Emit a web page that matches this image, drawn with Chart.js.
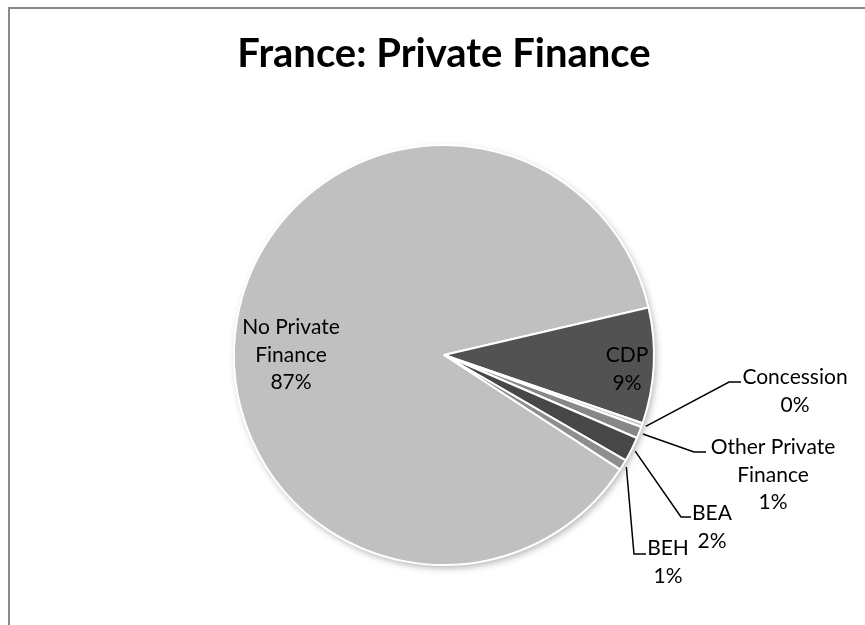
<!DOCTYPE html>
<html>
<head>
<meta charset="utf-8">
<script src="https://cdn.jsdelivr.net/npm/chart.js@4.4.1/dist/chart.umd.min.js"></script>
<style>
  html, body { margin: 0; padding: 0; background: #fff; }
  #wrap { width: 865px; height: 625px; position: relative; }
</style>
</head>
<body>
<div id="wrap"><canvas id="pie"></canvas></div>
<script>
// Shares of private finance (percent)
const sliceNames = ['No Private Finance', 'CDP', 'Concession', 'Other Private Finance', 'BEA', 'BEH'];
const sliceValues = [87.2, 8.9, 0.3, 0.9, 1.9, 0.8];
const sliceLabels = ['87%', '9%', '0%', '1%', '2%', '1%'];
const sliceColors = ['#c0c0c0', '#525252', '#c4c4c4', '#878787', '#474747', '#8e8e8e'];

// label text split over lines
const labelLines = [
  ['No Private', 'Finance', '87%'],
  ['CDP', '9%'],
  ['Concession', '0%'],
  ['Other Private', 'Finance', '1%'],
  ['BEA', '2%'],
  ['BEH', '1%']
];

// text block centre relative to pie centre; callouts also get an elbow and line end
const labelPlace = [
  { inside: true, tx: -153, ty: 0 },
  { inside: true, tx: 183, ty: 14 },
  { tx: 351, ty: 36, ex: 285, ey: 27, hx: 297 },
  { tx: 329, ty: 120, ex: 250, ey: 97, hx: 262 },
  { tx: 268, ty: 172, ex: 237, ey: 162, hx: 247 },
  { tx: 224, ty: 207, ex: 190, ey: 199, hx: 202 }
];

const labelFont = '21px Lato';
const lineGap = 27.5;

const frame = {
  id: 'frame',
  beforeDraw(chart) {
    const ctx = chart.ctx;
    ctx.save();
    ctx.strokeStyle = '#8a8a8a';
    ctx.lineWidth = 2;
    ctx.beginPath();
    ctx.moveTo(9, 625);
    ctx.lineTo(9, 8);
    ctx.lineTo(865, 8);
    ctx.stroke();
    ctx.restore();
  }
};

// soft drop shadow under the pie
const pieShadow = {
  id: 'pieShadow',
  beforeDatasetsDraw(chart) {
    const arc = chart.getDatasetMeta(0).data[0];
    if (!arc) return;
    const ctx = chart.ctx;
    ctx.save();
    ctx.shadowColor = 'rgba(0,0,0,0.3)';
    ctx.shadowBlur = 7;
    ctx.shadowOffsetX = 2;
    ctx.shadowOffsetY = 3;
    ctx.fillStyle = '#fff';
    ctx.beginPath();
    ctx.arc(arc.x, arc.y, arc.outerRadius, 0, Math.PI * 2);
    ctx.fill();
    ctx.restore();
  }
};

const sliceText = {
  id: 'sliceText',
  afterDatasetsDraw(chart) {
    const ctx = chart.ctx;
    const arcs = chart.getDatasetMeta(0).data;
    ctx.save();
    ctx.font = labelFont;
    ctx.textAlign = 'center';
    ctx.textBaseline = 'middle';
    arcs.forEach((arc, i) => {
      const p = labelPlace[i];
      const cx = arc.x, cy = arc.y;
      const lines = labelLines[i];
      if (!p.inside) {
        const mid = (arc.startAngle + arc.endAngle) / 2;
        const r = arc.outerRadius + 4;
        ctx.strokeStyle = '#000';
        ctx.lineWidth = 1.5;
        ctx.beginPath();
        ctx.moveTo(cx + Math.cos(mid) * r, cy + Math.sin(mid) * r);
        ctx.lineTo(cx + p.ex, cy + p.ey);
        ctx.lineTo(cx + p.hx, cy + p.ey);
        ctx.stroke();
      }
      ctx.fillStyle = '#000';
      const top = cy + p.ty - (lines.length - 1) * lineGap / 2;
      lines.forEach((t, k) => ctx.fillText(t, cx + p.tx, top + k * lineGap));
    });
    ctx.restore();
  }
};

new Chart(document.getElementById('pie'), {
  type: 'pie',
  data: {
    labels: sliceNames,
    datasets: [{
      data: sliceValues,
      backgroundColor: sliceColors,
      borderColor: '#ffffff',
      borderWidth: 2
    }]
  },
  options: {
    responsive: true,
    maintainAspectRatio: false,
    animation: false,
    rotation: 123,
    layout: { padding: { left: 233, right: 210, top: 0, bottom: 59 } },
    plugins: {
      legend: { display: false },
      tooltip: { enabled: false },
      title: {
        display: true,
        text: 'France: Private Finance',
        color: '#000',
        font: { family: 'Lato', size: 40, weight: 'bold', lineHeight: 1.2 },
        padding: { top: 30, bottom: 66 }
      }
    }
  },
  plugins: [frame, pieShadow, sliceText]
});
</script>
</body>
</html>
